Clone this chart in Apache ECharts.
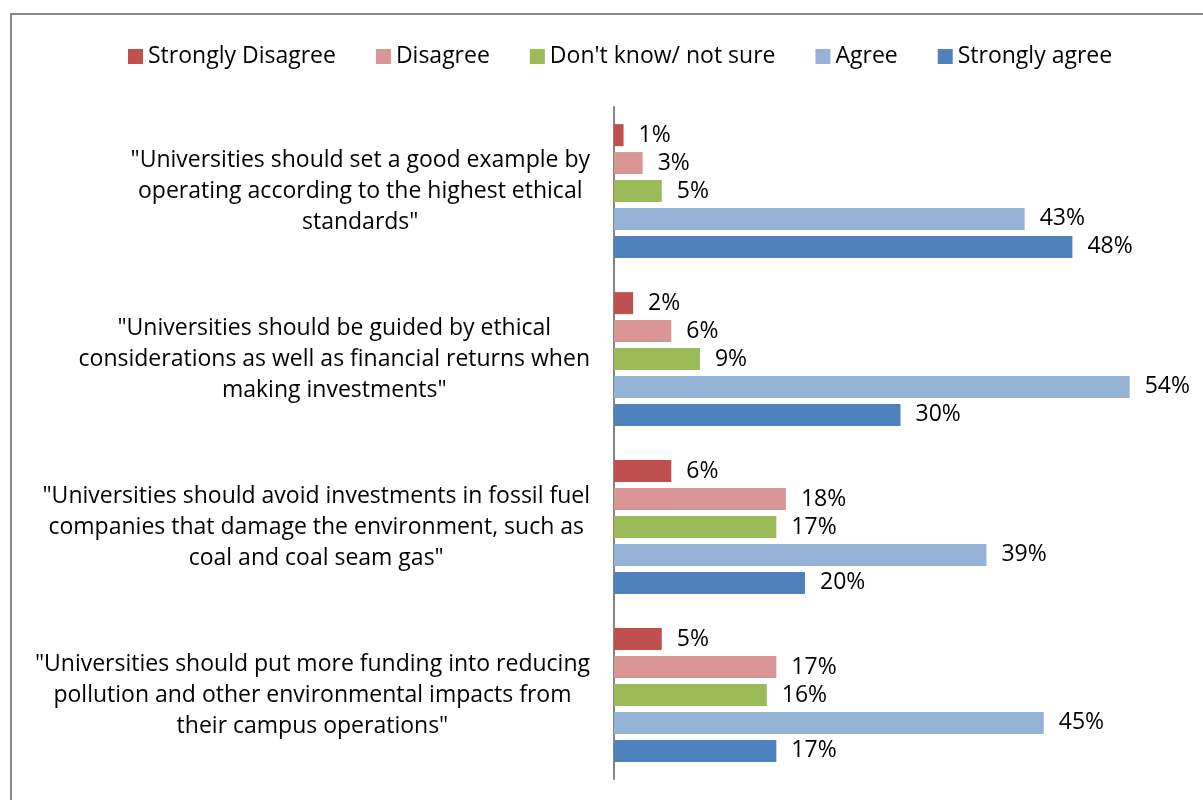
<!DOCTYPE html>
<html>
<head>
<meta charset="utf-8">
<script src="https://cdn.jsdelivr.net/npm/echarts@6/dist/echarts.min.js"></script>
<style>
  html, body { margin: 0; padding: 0; background: #fff; }
  #main { width: 1203px; height: 800px; }
</style>
</head>
<body>
<div id="main"></div>
<script>
var statements = [
    '"Universities should set a good example by\noperating according to the highest ethical\nstandards"',
    '"Universities should be guided by ethical\nconsiderations as well as financial returns when\nmaking investments"',
    '"Universities should avoid investments in fossil fuel\ncompanies that damage the environment, such as\ncoal and coal seam gas"',
    '"Universities should put more funding into reducing\npollution and other environmental impacts from\ntheir campus operations"'
];
var answerNames = ["Strongly Disagree", "Disagree", "Don't know/ not sure", "Agree", "Strongly agree"];
var stronglyDisagree = [1, 2, 6, 5];
var disagree = [3, 6, 18, 17];
var dontKnow = [5, 9, 17, 16];
var agree = [43, 54, 39, 45];
var stronglyAgree = [48, 30, 20, 17];

var colors = ["#C0504D", "#D99694", "#9BBB59", "#95B3D7", "#4F81BD"];
var FONT = "Open Sans";
var FS = 23;

var myChart = echarts.init(document.getElementById("main"));

function makeSeries(name, data, color) {
    return {
        name: name,
        type: "bar",
        data: data,
        barWidth: 22,
        barGap: "27%",
        itemStyle: { color: color },
        label: {
            show: true,
            position: "right",
            distance: 15,
            formatter: "{c}%",
            color: "#000",
            fontFamily: FONT,
            fontSize: FS,
        },
    };
}

var option = {
    animation: false,
    legend: {
        top: 40,
        left: 123,
        itemWidth: 15,
        itemHeight: 15,
        itemGap: 40,
        icon: "rect",
        textStyle: { fontFamily: FONT, fontSize: FS, color: "#000" },
        data: answerNames,
    },
    grid: {
        left: 614,
        right: 16,
        top: 107,
        bottom: 21,
    },
    xAxis: {
        type: "value",
        min: 0,
        max: 60,
        show: false,
        splitLine: { show: false },
    },
    yAxis: {
        type: "category",
        inverse: true,
        data: statements,
        axisLine: { lineStyle: { color: "#868686", width: 2 } },
        axisTick: { show: false },
        axisLabel: {
            margin: 24,
            fontFamily: FONT,
            fontSize: FS,
            color: "#000",
            lineHeight: 31,
            formatter: function (v) {
                return v.split("\n").map(function (l) { return "{c|" + l + "}"; }).join("\n");
            },
            rich: {
                c: { align: "center", fontFamily: FONT, fontSize: FS, lineHeight: 31, color: "#000" },
            },
        },
    },
    graphic: [
        {
            type: "rect",
            shape: { x: 11, y: 14, width: 1300, height: 900 },
            style: { fill: "none", stroke: "#898989", lineWidth: 2 },
            silent: true,
        },
    ],
    series: [
        makeSeries(answerNames[0], stronglyDisagree, colors[0]),
        makeSeries(answerNames[1], disagree, colors[1]),
        makeSeries(answerNames[2], dontKnow, colors[2]),
        makeSeries(answerNames[3], agree, colors[3]),
        makeSeries(answerNames[4], stronglyAgree, colors[4]),
    ],
};
myChart.setOption(option);
</script>
</body>
</html>
